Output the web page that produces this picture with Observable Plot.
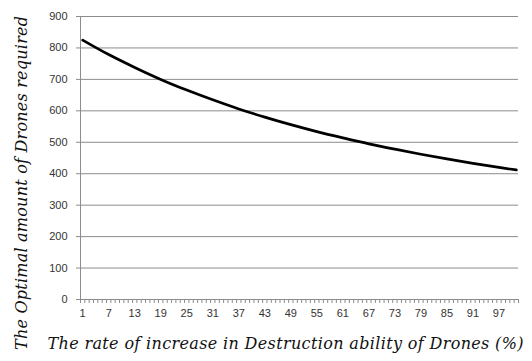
<!DOCTYPE html>
<html><head><meta charset="utf-8">
<script src="https://cdn.jsdelivr.net/npm/d3@7"></script>
<script src="https://cdn.jsdelivr.net/npm/@observablehq/plot@0.6"></script>
<style>body{margin:0;background:#fff}</style>
</head><body><div id="chart"></div>
<script>
// Data
const rates = [1, 7, 13, 19, 25, 31, 37, 43, 49, 55, 61, 67, 73, 79, 85, 91, 97, 101];
const drones = [825, 779, 738, 700, 666, 635, 606, 580, 556, 534, 514, 495, 478, 462, 447, 433, 420, 412];
const xTickLabels = [1, 7, 13, 19, 25, 31, 37, 43, 49, 55, 61, 67, 73, 79, 85, 91, 97];
const yTicks = [0, 100, 200, 300, 400, 500, 600, 700, 800, 900];
const categoryCount = 101;
const xTitle = "The rate of increase in Destruction ability of Drones (%)";
const yTitle = "The Optimal amount of Drones required";

const data = rates.map((r, i) => ({rate: r, drones: drones[i]}));
const boundaries = d3.range(0.5, categoryCount + 1, 1);

const serif = "'DejaVu Serif', 'Liberation Serif', serif";
const sans = "'Liberation Sans', Arial, sans-serif";

const chart = Plot.plot({
  width: 532,
  height: 361,
  marginLeft: 80,
  marginRight: 14,
  marginTop: 16,
  marginBottom: 62,
  style: {fontFamily: sans, fontSize: "11px", color: "#333", background: "#fff"},
  x: {type: "linear", domain: [0.5, categoryCount + 0.5]},
  y: {domain: [0, 900]},
  marks: [
    Plot.gridY(yTicks, {stroke: "#8c8c8c", strokeOpacity: 1, strokeWidth: 1}),
    Plot.axisY({ticks: yTicks, tickSize: 4, tickPadding: 9, label: null, stroke: "#8c8c8c", fill: "#333", fontSize: 11}),
    Plot.axisX({ticks: boundaries, tickSize: 4, tickFormat: () => "", label: null, stroke: "#8c8c8c"}),
    Plot.axisX({ticks: xTickLabels, tickSize: 0, tickPadding: 10, label: null, fill: "#333", fontSize: 11}),
    Plot.ruleX([0.5], {stroke: "#8c8c8c"}),
    Plot.ruleY([0], {stroke: "#8c8c8c"}),
    Plot.line(data, {x: "rate", y: "drones", stroke: "#000", strokeWidth: 2.7, curve: "monotone-x"}),
    Plot.text([yTitle], {frameAnchor: "left", textAnchor: "middle", dx: -59, dy: 25, rotate: -90, fontFamily: serif, fontStyle: "italic", fontSize: 16, fill: "#111"}),
    Plot.text([xTitle], {frameAnchor: "bottom", textAnchor: "middle", dx: -14, dy: 49, fontFamily: serif, fontStyle: "italic", fontSize: 16, fill: "#111"})
  ]
});
// stretch the titles to the widths they have in the reference
d3.select(chart).selectAll("text").each(function () {
  const t = this.textContent;
  if (t === yTitle) d3.select(this).attr("textLength", 334).attr("lengthAdjust", "spacing");
  if (t === xTitle) d3.select(this).attr("textLength", 476).attr("lengthAdjust", "spacing");
});
document.getElementById("chart").appendChild(chart);
</script>
</body></html>
